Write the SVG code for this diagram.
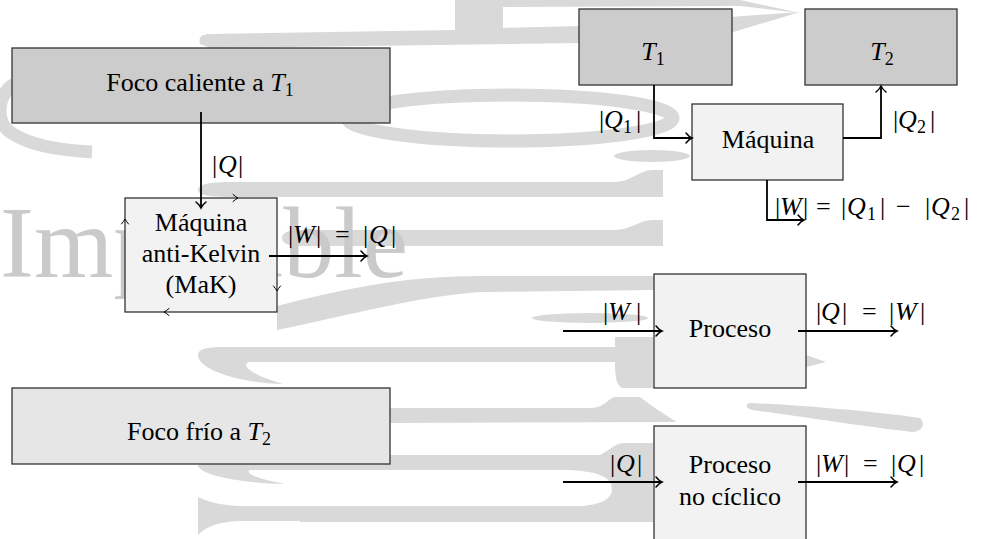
<svg xmlns="http://www.w3.org/2000/svg" width="983" height="539" viewBox="0 0 983 539">
<defs>
<style>
.wm{fill:#d9d9d9;stroke:none}
.wmr{fill:none;stroke:#d9d9d9}
.box{stroke:#333333;stroke-width:1.3}
.dark{fill:#cccccc}
.mid{fill:#e6e6e6}
.light{fill:#f2f2f2}
.t{font-family:"Liberation Serif","Times New Roman",serif;font-size:26px;fill:#000}
.i{font-style:italic}
.s{font-size:18px}
.c{fill:none;stroke:#000;stroke-width:1.8}
.cy{fill:none;stroke:#000;stroke-width:1;stroke-linecap:round}
</style>
<marker id="arr" markerUnits="userSpaceOnUse" markerWidth="14" markerHeight="14" viewBox="-8 -7 10 14" refX="0" refY="0" orient="auto">
<path d="M -6,-5 C -4,-2.5 -1.5,-0.6 0,0 C -1.5,0.6 -4,2.5 -6,5" fill="none" stroke="#000" stroke-width="1.5" stroke-linecap="round"/>
</marker>
</defs>
<rect x="0" y="0" width="983" height="539" fill="#ffffff"/>
<g id="watermark">
<path class="wm" d="M 200,44 C 198,37 202,34 210,34 L 455,30 L 455,0 L 503,0 L 503,28 L 580,26 L 580,43 L 210,48 Z"/>
<path class="wm" d="M 503,0 L 740,0 L 800,13 L 740,6 L 503,7 Z"/>
<path class="wm" d="M 730,17 L 800,12 L 730,33 Z"/>
<ellipse class="wmr" cx="510" cy="118" rx="163" ry="23" stroke-width="13"/>
<ellipse class="wm" cx="652" cy="156" rx="38" ry="6"/>
<path class="wmr" stroke-width="13" d="M 14,84 C -4,96 -4,122 10,132 C 30,146 60,150 92,152"/>
<path class="wm" d="M 198,190 C 198,184 210,182 232,182 L 615,182 C 630,182 640,170 652,170 L 663,170 L 663,197 L 232,197 C 212,197 198,196 198,190 Z"/>
<path class="wm" d="M 282,238 C 282,232 290,230 300,230 L 615,230 C 630,230 640,220 652,220 L 663,220 L 663,246 L 300,246 C 290,246 282,244 282,238 Z"/>
<path class="wm" d="M 277,306 C 340,290 400,276 480,276 L 655,276 L 655,290 L 480,292 C 420,296 350,315 277,330 Z"/>
<ellipse class="wm" cx="590" cy="318" rx="58" ry="5"/>
<path class="wm" d="M 806,355 L 826,362 L 806,367 Z"/>
<path class="wm" d="M 198,355 C 198,348 210,347 225,347 L 615,347 L 615,337 L 653,337 L 653,388 L 622,388 C 616,385 615,375 615,362 L 250,362 C 240,364 248,374 283,384 C 240,383 198,370 198,355 Z"/>
<path class="wm" d="M 390,408 L 590,408 C 605,408 608,398 615,397 L 640,397 C 650,405 665,415 677,422 L 390,423 Z"/>
<path class="wm" d="M 750,403 C 800,405 880,412 920,418 C 926,424 922,432 912,432 C 860,426 790,415 752,410 C 745,408 745,404 750,403 Z"/>
<path class="wm" d="M 250,455 L 600,455 C 610,450 615,443 625,443 L 653,443 L 653,522 L 300,522 L 300,507 L 560,507 C 600,507 612,500 612,489 C 612,478 600,470 560,470 L 250,470 C 245,472 252,478 285,484 C 240,483 198,475 198,465 L 250,455 Z"/>
<path class="wm" d="M 198,497 C 205,500 215,505 240,506 L 653,506 L 653,521 L 240,521 C 215,522 205,528 198,535 Z"/>
<text x="0" y="277" style="font-family:'Liberation Serif','Times New Roman',serif;font-size:102px;fill:#cacaca">Imposible</text>
</g>
<g id="foco-caliente">
<rect class="box dark" x="12" y="48" width="378" height="75"/>
<text class="t" x="200" y="91" text-anchor="middle">Foco caliente a <tspan class="i">T</tspan><tspan class="s" dy="5">1</tspan></text>
</g>
<g id="maquina-ak">
<rect class="box light" x="125" y="198" width="152" height="114"/>
<text class="t" x="201" y="231" text-anchor="middle">Máquina</text>
<text class="t" x="201" y="262" text-anchor="middle">anti-Kelvin</text>
<text class="t" x="201" y="293" text-anchor="middle">(MaK)</text>
<path class="cy" d="M 233,194.5 Q 236,197 238,198 Q 236,199 233,201.5"/>
<path class="cy" d="M 121.5,224 Q 124,221 125,219 Q 126,221 128.5,224"/>
<path class="cy" d="M 273.5,286 Q 276,289 277,291 Q 278,289 280.5,286"/>
<path class="cy" d="M 169,308.5 Q 166,311 164,312 Q 166,313 169,315.5"/>
</g>
<g id="foco-frio">
<rect class="box mid" x="12" y="388" width="378" height="76"/>
<text class="t" x="199" y="440" text-anchor="middle">Foco frío a <tspan class="i">T</tspan><tspan class="s" dy="5">2</tspan></text>
</g>
<g id="t1">
<rect class="box dark" x="579" y="9" width="153" height="76"/>
<text class="t" x="653" y="60" text-anchor="middle"><tspan class="i">T</tspan><tspan class="s" dy="5">1</tspan></text>
</g>
<g id="t2">
<rect class="box dark" x="805" y="9" width="152" height="76"/>
<text class="t" x="882" y="60" text-anchor="middle"><tspan class="i">T</tspan><tspan class="s" dy="5">2</tspan></text>
</g>
<g id="maquina">
<rect class="box light" x="692" y="104" width="151" height="76"/>
<text class="t" x="768" y="148" text-anchor="middle">Máquina</text>
</g>
<g id="proceso">
<rect class="box light" x="654" y="274" width="152" height="114"/>
<text class="t" x="730" y="337" text-anchor="middle">Proceso</text>
</g>
<g id="proceso-nc">
<rect class="box light" x="654" y="426" width="152" height="116"/>
<text class="t" x="730" y="473" text-anchor="middle">Proceso</text>
<text class="t" x="730" y="505" text-anchor="middle">no cíclico</text>
</g>
<g id="connectors">
<line class="c" x1="201" y1="112" x2="201" y2="208" marker-end="url(#arr)"/>
<line class="c" x1="269" y1="256" x2="367" y2="256" marker-end="url(#arr)"/>
<polyline class="c" points="654,85 654,138 692,138" marker-end="url(#arr)"/>
<polyline class="c" points="843,138 881,138 881,86" marker-end="url(#arr)"/>
<polyline class="c" points="767,180 767,220 804,220" marker-end="url(#arr)"/>
<line class="c" x1="563" y1="331" x2="662" y2="331" marker-end="url(#arr)"/>
<line class="c" x1="798" y1="331" x2="897" y2="331" marker-end="url(#arr)"/>
<line class="c" x1="563" y1="482" x2="662" y2="482" marker-end="url(#arr)"/>
<line class="c" x1="798" y1="482" x2="897" y2="482" marker-end="url(#arr)"/>
</g>
<g id="labels">
<text class="t" y="173"><tspan x="212">|</tspan><tspan class="i" x="218">Q</tspan><tspan x="238">|</tspan></text>
<text class="t" y="243"><tspan x="288">|</tspan><tspan class="i" x="293">W</tspan><tspan x="316">|</tspan><tspan x="335">=</tspan><tspan x="363">|</tspan><tspan class="i" x="369">Q</tspan><tspan x="391">|</tspan></text>
<text class="t" y="128"><tspan x="599">|</tspan><tspan class="i" x="604">Q</tspan><tspan class="s" x="623" y="133">1</tspan><tspan x="636" y="128">|</tspan></text>
<text class="t" y="128"><tspan x="893">|</tspan><tspan class="i" x="898">Q</tspan><tspan class="s" x="917" y="133">2</tspan><tspan x="930" y="128">|</tspan></text>
<text class="t" y="215"><tspan x="775">|</tspan><tspan class="i" x="780">W</tspan><tspan x="803">|</tspan><tspan x="816">=</tspan><tspan x="841">|</tspan><tspan class="i" x="847">Q</tspan><tspan class="s" x="867" y="220">1</tspan><tspan x="880" y="215">|</tspan><tspan x="896">−</tspan><tspan x="925">|</tspan><tspan class="i" x="931">Q</tspan><tspan class="s" x="951" y="220">2</tspan><tspan x="964" y="215">|</tspan></text>
<text class="t" y="320"><tspan x="603">|</tspan><tspan class="i" x="608">W</tspan><tspan x="636">|</tspan></text>
<text class="t" y="320"><tspan x="816">|</tspan><tspan class="i" x="821">Q</tspan><tspan x="842">|</tspan><tspan x="862">=</tspan><tspan x="889">|</tspan><tspan class="i" x="895">W</tspan><tspan x="920">|</tspan></text>
<text class="t" y="472"><tspan x="610">|</tspan><tspan class="i" x="616">Q</tspan><tspan x="637">|</tspan></text>
<text class="t" y="472"><tspan x="816">|</tspan><tspan class="i" x="821">W</tspan><tspan x="844">|</tspan><tspan x="863">=</tspan><tspan x="891">|</tspan><tspan class="i" x="897">Q</tspan><tspan x="919">|</tspan></text>
</g>
</svg>
